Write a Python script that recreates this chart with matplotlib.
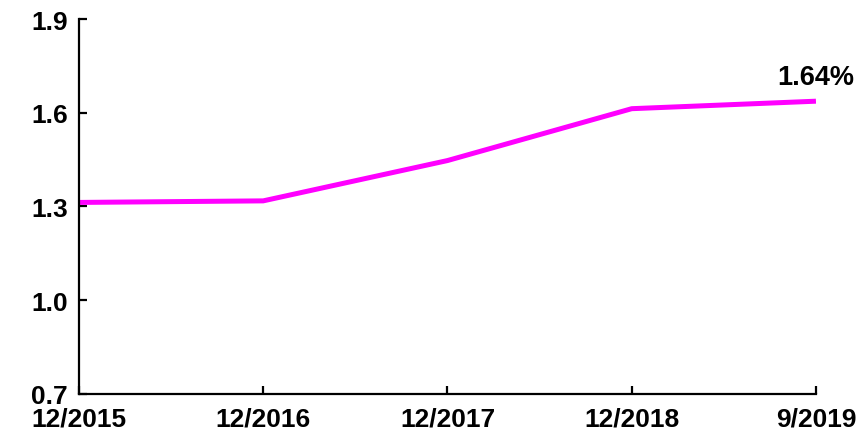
import matplotlib.pyplot as plt

# data
dates = ["12/2015", "12/2016", "12/2017", "12/2018", "9/2019"]
rate = [1.313, 1.318, 1.447, 1.613, 1.637]
yticks = [0.7, 1.0, 1.3, 1.6, 1.9]
last_label = "1.64%"

plt.rcParams["font.family"] = ["Liberation Sans", "DejaVu Sans"]
plt.rcParams["font.weight"] = "bold"

fig = plt.figure(figsize=(8.58, 4.35), dpi=100)
ax = fig.add_axes([0.092, 0.092, 0.859, 0.862])

x = list(range(len(dates)))
ax.plot(x, rate, color="#ff00ff", linewidth=3.6, solid_capstyle="butt")

# label at the last point
ax.annotate(last_label, (x[-1], rate[-1]), xytext=(0, 8), textcoords="offset points",
            ha="center", va="bottom", fontsize=19.5, fontweight="bold")

ax.set_xlim(0, len(dates) - 1)
ax.set_ylim(0.7, 1.9)
ax.set_xticks(x)
ax.set_xticklabels(dates)
ax.set_yticks(yticks)
ax.set_yticklabels(["%.1f" % v for v in yticks])

for s in ["top", "right"]:
    ax.spines[s].set_visible(False)
for s in ["left", "bottom"]:
    ax.spines[s].set_linewidth(1.6)
ax.tick_params(axis="both", direction="in", length=6, width=1.6, labelsize=19)
ax.tick_params(axis="x", pad=9)
ax.tick_params(axis="y", pad=8)
for lab in ax.get_xticklabels() + ax.get_yticklabels():
    lab.set_fontweight("bold")

fig.savefig("out.png", dpi=100)
